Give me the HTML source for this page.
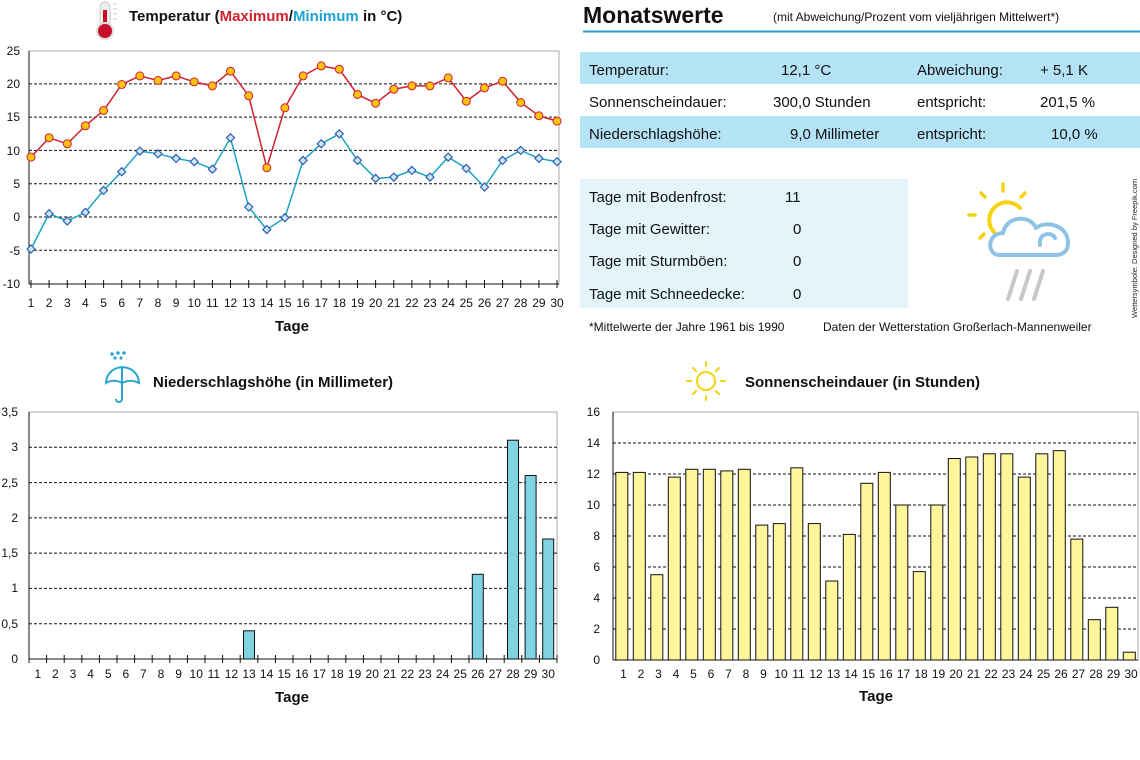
<!DOCTYPE html>
<html><head><meta charset="utf-8"><style>
html,body{margin:0;padding:0;background:#fff;width:1140px;height:760px;overflow:hidden}
svg{display:block;font-family:"Liberation Sans",sans-serif}
.t{font-size:12px;fill:#111}
.g{stroke:#111;stroke-width:1;stroke-dasharray:3,2}
</style></head><body>
<svg width="1140" height="760" viewBox="0 0 1140 760" xmlns="http://www.w3.org/2000/svg">
<!-- ===== Temperature ===== -->
<g>
<rect x="100" y="2" width="10" height="26" rx="5" fill="#eee" stroke="#ccc"/>
<rect x="103" y="10" width="4" height="22" fill="#c8102e"/>
<circle cx="105" cy="31" r="8" fill="#c8102e" stroke="#ddd" stroke-width="2"/>
<line x1="113" y1="4" x2="117" y2="4" stroke="#ccc"/><line x1="113" y1="9" x2="117" y2="9" stroke="#ccc"/><line x1="113" y1="14" x2="117" y2="14" stroke="#ccc"/><line x1="113" y1="19" x2="117" y2="19" stroke="#ccc"/>
<text x="129" y="21" font-size="15" font-weight="bold" fill="#111">Temperatur (<tspan fill="#d0202e">Maximum</tspan>/<tspan fill="#1aa3d4">Minimum</tspan> in °C)</text>
</g>
<rect x="29" y="51" width="530" height="233" fill="none" stroke="#aaa"/>
<line x1="29" y1="83.9" x2="559" y2="83.9" class="g"/>
<line x1="29" y1="117.1" x2="559" y2="117.1" class="g"/>
<line x1="29" y1="150.4" x2="559" y2="150.4" class="g"/>
<line x1="29" y1="183.7" x2="559" y2="183.7" class="g" stroke="#666"/>
<line x1="29" y1="217" x2="559" y2="217" class="g"/>
<line x1="29" y1="250.3" x2="559" y2="250.3" class="g"/>
<line x1="29" y1="51" x2="29" y2="284" stroke="#111"/>
<line x1="29" y1="284" x2="559" y2="284" stroke="#111"/>
<g class="t" text-anchor="end">
<text x="20" y="55">25</text><text x="20" y="88">20</text><text x="20" y="121">15</text><text x="20" y="155">10</text><text x="20" y="188">5</text><text x="20" y="221">0</text><text x="20" y="255">-5</text><text x="20" y="288">-10</text>
</g>
<g stroke="#111">
<path d="M31 280v8M49.1 280v8M67.3 280v8M85.4 280v8M103.6 280v8M121.7 280v8M139.8 280v8M158 280v8M176.1 280v8M194.2 280v8M212.4 280v8M230.5 280v8M248.7 280v8M266.8 280v8M284.9 280v8M303.1 280v8M321.2 280v8M339.3 280v8M357.5 280v8M375.6 280v8M393.8 280v8M411.9 280v8M430 280v8M448.2 280v8M466.3 280v8M484.5 280v8M502.6 280v8M520.7 280v8M538.9 280v8M557 280v8"/>
</g>
<g class="t" text-anchor="middle">
<text x="31" y="307">1</text><text x="49.1" y="307">2</text><text x="67.3" y="307">3</text><text x="85.4" y="307">4</text><text x="103.6" y="307">5</text><text x="121.7" y="307">6</text><text x="139.8" y="307">7</text><text x="158" y="307">8</text><text x="176.1" y="307">9</text><text x="194.2" y="307">10</text><text x="212.4" y="307">11</text><text x="230.5" y="307">12</text><text x="248.7" y="307">13</text><text x="266.8" y="307">14</text><text x="284.9" y="307">15</text><text x="303.1" y="307">16</text><text x="321.2" y="307">17</text><text x="339.3" y="307">18</text><text x="357.5" y="307">19</text><text x="375.6" y="307">20</text><text x="393.8" y="307">21</text><text x="411.9" y="307">22</text><text x="430" y="307">23</text><text x="448.2" y="307">24</text><text x="466.3" y="307">25</text><text x="484.5" y="307">26</text><text x="502.6" y="307">27</text><text x="520.7" y="307">28</text><text x="538.9" y="307">29</text><text x="557" y="307">30</text>
</g>
<text x="292" y="331" font-size="15" font-weight="bold" text-anchor="middle" fill="#111">Tage</text>
<polyline fill="none" stroke="#d0202e" stroke-width="1.5" points="31,157.1 49.1,137.8 67.3,143.8 85.4,125.8 103.6,110.5 121.7,84.5 139.8,75.9 158,80.5 176.1,75.9 194.2,81.9 212.4,85.9 230.5,71.2 248.7,95.8 266.8,167.7 284.9,107.8 303.1,75.9 321.2,65.9 339.3,69.2 357.5,94.5 375.6,103.2 393.8,89.2 411.9,85.9 430,85.9 448.2,77.9 466.3,101.2 484.5,87.9 502.6,81.2 520.7,102.5 538.9,115.8 557,121.1"/>
<g fill="#ffc20e" stroke="#d0202e" stroke-width="1">
<circle cx="31" cy="157.1" r="4"/><circle cx="49.1" cy="137.8" r="4"/><circle cx="67.3" cy="143.8" r="4"/><circle cx="85.4" cy="125.8" r="4"/><circle cx="103.6" cy="110.5" r="4"/><circle cx="121.7" cy="84.5" r="4"/><circle cx="139.8" cy="75.9" r="4"/><circle cx="158" cy="80.5" r="4"/><circle cx="176.1" cy="75.9" r="4"/><circle cx="194.2" cy="81.9" r="4"/><circle cx="212.4" cy="85.9" r="4"/><circle cx="230.5" cy="71.2" r="4"/><circle cx="248.7" cy="95.8" r="4"/><circle cx="266.8" cy="167.7" r="4"/><circle cx="284.9" cy="107.8" r="4"/><circle cx="303.1" cy="75.9" r="4"/><circle cx="321.2" cy="65.9" r="4"/><circle cx="339.3" cy="69.2" r="4"/><circle cx="357.5" cy="94.5" r="4"/><circle cx="375.6" cy="103.2" r="4"/><circle cx="393.8" cy="89.2" r="4"/><circle cx="411.9" cy="85.9" r="4"/><circle cx="430" cy="85.9" r="4"/><circle cx="448.2" cy="77.9" r="4"/><circle cx="466.3" cy="101.2" r="4"/><circle cx="484.5" cy="87.9" r="4"/><circle cx="502.6" cy="81.2" r="4"/><circle cx="520.7" cy="102.5" r="4"/><circle cx="538.9" cy="115.8" r="4"/><circle cx="557" cy="121.1" r="4"/>
</g>
<polyline fill="none" stroke="#1aa3c4" stroke-width="1.5" points="31,249 49.1,213.7 67.3,221 85.4,212.3 103.6,190.4 121.7,171.7 139.8,151.1 158,153.8 176.1,158.4 194.2,161.7 212.4,169.1 230.5,137.8 248.7,207 266.8,229.6 284.9,217.7 303.1,160.4 321.2,143.8 339.3,133.8 357.5,160.4 375.6,178.4 393.8,177.1 411.9,170.4 430,177.1 448.2,157.1 466.3,168.4 484.5,187 502.6,160.4 520.7,150.4 538.9,158.4 557,161.7"/>
<g fill="#cfe6f7" stroke="#2e5fb0" stroke-width="1.2">
<path d="M31 245l4 4-4 4-4-4zM49.1 209.7l4 4-4 4-4-4zM67.3 217l4 4-4 4-4-4zM85.4 208.3l4 4-4 4-4-4zM103.6 186.4l4 4-4 4-4-4zM121.7 167.7l4 4-4 4-4-4zM139.8 147.1l4 4-4 4-4-4zM158 149.8l4 4-4 4-4-4zM176.1 154.4l4 4-4 4-4-4zM194.2 157.7l4 4-4 4-4-4zM212.4 165.1l4 4-4 4-4-4zM230.5 133.8l4 4-4 4-4-4zM248.7 203l4 4-4 4-4-4zM266.8 225.6l4 4-4 4-4-4zM284.9 213.7l4 4-4 4-4-4zM303.1 156.4l4 4-4 4-4-4zM321.2 139.8l4 4-4 4-4-4zM339.3 129.8l4 4-4 4-4-4zM357.5 156.4l4 4-4 4-4-4zM375.6 174.4l4 4-4 4-4-4zM393.8 173.1l4 4-4 4-4-4zM411.9 166.4l4 4-4 4-4-4zM430 173.1l4 4-4 4-4-4zM448.2 153.1l4 4-4 4-4-4zM466.3 164.4l4 4-4 4-4-4zM484.5 183l4 4-4 4-4-4zM502.6 156.4l4 4-4 4-4-4zM520.7 146.4l4 4-4 4-4-4zM538.9 154.4l4 4-4 4-4-4zM557 157.7l4 4-4 4-4-4z"/>
</g>

<!-- ===== Monatswerte ===== -->
<text x="583" y="23" font-size="23" font-weight="bold" fill="#111">Monatswerte</text>
<text x="773" y="21" font-size="12" fill="#111">(mit Abweichung/Prozent vom vieljährigen Mittelwert*)</text>
<line x1="583" y1="31.5" x2="1140" y2="31.5" stroke="#2a9fd6" stroke-width="2"/>
<rect x="580" y="52" width="560" height="32" fill="#b4e3f6"/>
<rect x="580" y="116" width="560" height="32" fill="#b4e3f6"/>
<g font-size="15" fill="#111">
<text x="589" y="75">Temperatur:</text><text x="781" y="75">12,1 °C</text><text x="917" y="75">Abweichung:</text><text x="1040" y="75">+ 5,1 K</text>
<text x="589" y="107">Sonnenscheindauer:</text><text x="773" y="107">300,0 Stunden</text><text x="917" y="107">entspricht:</text><text x="1040" y="107">201,5 %</text>
<text x="589" y="139">Niederschlagshöhe:</text><text x="790" y="139">9,0 Millimeter</text><text x="917" y="139">entspricht:</text><text x="1051" y="139">10,0 %</text>
</g>
<rect x="580" y="179" width="328" height="129" fill="#e3f4fb"/>
<g font-size="15" fill="#111">
<text x="589" y="202">Tage mit Bodenfrost:</text><text x="785" y="202">11</text>
<text x="589" y="234">Tage mit Gewitter:</text><text x="793" y="234">0</text>
<text x="589" y="266">Tage mit Sturmböen:</text><text x="793" y="266">0</text>
<text x="589" y="299">Tage mit Schneedecke:</text><text x="793" y="299">0</text>
</g>
<text x="589" y="331" font-size="12" fill="#111">*Mittelwerte der Jahre 1961 bis 1990</text>
<text x="823" y="331" font-size="12" fill="#111">Daten der Wetterstation Großerlach-Mannenweiler</text>
<text transform="translate(1137,318) rotate(-90)" font-size="7.5" fill="#222">Wettersymbole: Designed by Freepik.com</text>
<!-- weather icon -->
<g fill="none" stroke-linecap="round">
<path d="M994 232 A15 15 0 1 1 1020 208" stroke="#f5d312" stroke-width="4"/>
<g stroke="#f5d312" stroke-width="3.5"><path d="M1003 184v7M981 193l4 4M1025 193l-4 4M969 215h6M980 238l4-4"/></g>
<path d="M1000 255 C986 255 987 233 1003 233 C1006 216 1030 214 1036 228 C1046 220 1068 225 1068 243 C1068 252 1062 255 1055 255 Z" stroke="#8ec3e6" stroke-width="4" stroke-linejoin="round"/>
<path d="M1040 245 C1038 233 1052 231 1055 238" stroke="#8ec3e6" stroke-width="4"/>
<g stroke="#c8c8c8" stroke-width="4"><path d="M1017 271l-9 28M1030 271l-9 28M1043 271l-9 28"/></g>
</g>

<!-- ===== Niederschlag ===== -->
<g>
<g fill="#2aa6cf"><circle cx="112" cy="354" r="1.8"/><circle cx="118" cy="353" r="1.8"/><circle cx="124" cy="353" r="1.8"/><circle cx="115" cy="358" r="1.6"/><circle cx="121" cy="358" r="1.6"/></g>
<path d="M106 383 C107 362 138 362 139 383 C133 380 128 380 122 383 C117 380 111 380 106 383 Z" fill="none" stroke="#2aa6cf" stroke-width="2"/>
<path d="M122 366v33c0 4-6 4-6 0" fill="none" stroke="#2aa6cf" stroke-width="2"/>
<text x="153" y="387" font-size="15" font-weight="bold" fill="#111">Niederschlagshöhe (in Millimeter)</text>
</g>
<rect x="29" y="412" width="528" height="247" fill="none" stroke="#aaa"/>
<line x1="29" y1="447.3" x2="557" y2="447.3" class="g"/>
<line x1="29" y1="482.6" x2="557" y2="482.6" class="g"/>
<line x1="29" y1="517.9" x2="557" y2="517.9" class="g"/>
<line x1="29" y1="553.1" x2="557" y2="553.1" class="g"/>
<line x1="29" y1="588.4" x2="557" y2="588.4" class="g"/>
<line x1="29" y1="623.7" x2="557" y2="623.7" class="g"/>
<g fill="#7fd3e3" stroke="#111" stroke-width="1">
<rect x="243.5" y="630.8" width="11" height="28.2"/>
<rect x="472.3" y="574.3" width="11" height="84.7"/>
<rect x="507.5" y="440.2" width="11" height="218.8"/>
<rect x="525.1" y="475.5" width="11" height="183.5"/>
<rect x="542.7" y="539" width="11" height="120"/>
</g>
<line x1="29" y1="412" x2="29" y2="659" stroke="#111"/>
<line x1="29" y1="659" x2="557" y2="659" stroke="#111"/>
<g stroke="#111"><path d="M29 655v8M46.6 655v8M64.2 655v8M81.8 655v8M99.4 655v8M117 655v8M134.6 655v8M152.2 655v8M169.8 655v8M187.4 655v8M205 655v8M222.6 655v8M240.2 655v8M257.8 655v8M275.4 655v8M293 655v8M310.6 655v8M328.2 655v8M345.8 655v8M363.4 655v8M381 655v8M398.6 655v8M416.2 655v8M433.8 655v8M451.4 655v8M469 655v8M486.6 655v8M504.2 655v8M521.8 655v8M539.4 655v8M557 655v8"/></g>
<g class="t" text-anchor="end">
<text x="18" y="416">3,5</text><text x="18" y="451">3</text><text x="18" y="487">2,5</text><text x="18" y="522">2</text><text x="18" y="557">1,5</text><text x="18" y="592">1</text><text x="18" y="628">0,5</text><text x="18" y="663">0</text>
</g>
<g class="t" text-anchor="middle">
<text x="37.8" y="678">1</text><text x="55.4" y="678">2</text><text x="73" y="678">3</text><text x="90.6" y="678">4</text><text x="108.2" y="678">5</text><text x="125.8" y="678">6</text><text x="143.4" y="678">7</text><text x="161" y="678">8</text><text x="178.6" y="678">9</text><text x="196.2" y="678">10</text><text x="213.8" y="678">11</text><text x="231.4" y="678">12</text><text x="249" y="678">13</text><text x="266.6" y="678">14</text><text x="284.2" y="678">15</text><text x="301.8" y="678">16</text><text x="319.4" y="678">17</text><text x="337" y="678">18</text><text x="354.6" y="678">19</text><text x="372.2" y="678">20</text><text x="389.8" y="678">21</text><text x="407.4" y="678">22</text><text x="425" y="678">23</text><text x="442.6" y="678">24</text><text x="460.2" y="678">25</text><text x="477.8" y="678">26</text><text x="495.4" y="678">27</text><text x="513" y="678">28</text><text x="530.6" y="678">29</text><text x="548.2" y="678">30</text>
</g>
<text x="292" y="702" font-size="15" font-weight="bold" text-anchor="middle" fill="#111">Tage</text>

<!-- ===== Sonnenschein ===== -->
<g>
<circle cx="706" cy="381" r="9" fill="none" stroke="#f5d312" stroke-width="2"/>
<g stroke="#f5d312" stroke-width="2" stroke-linecap="round"><path d="M706 362v4M706 396v4M687 381h4M721 381h4M693 368l3 3M716 391l3 3M719 368l-3 3M696 391l-3 3"/></g>
<text x="745" y="387" font-size="15" font-weight="bold" fill="#111">Sonnenscheindauer (in Stunden)</text>
</g>
<rect x="613" y="412" width="525" height="248" fill="none" stroke="#aaa"/>
<line x1="613" y1="443" x2="1138" y2="443" class="g"/>
<line x1="613" y1="474" x2="1138" y2="474" class="g"/>
<line x1="613" y1="505" x2="1138" y2="505" class="g"/>
<line x1="613" y1="536" x2="1138" y2="536" class="g"/>
<line x1="613" y1="567" x2="1138" y2="567" class="g"/>
<line x1="613" y1="598" x2="1138" y2="598" class="g"/>
<line x1="613" y1="629" x2="1138" y2="629" class="g"/>
<g fill="#fff59a" stroke="#111" stroke-width="1">
<rect x="615.8" y="472.4" width="12" height="187.6"/><rect x="633.3" y="472.4" width="12" height="187.6"/><rect x="650.8" y="574.7" width="12" height="85.3"/><rect x="668.3" y="477.1" width="12" height="182.9"/><rect x="685.8" y="469.3" width="12" height="190.7"/><rect x="703.3" y="469.3" width="12" height="190.7"/><rect x="720.8" y="470.9" width="12" height="189.1"/><rect x="738.3" y="469.3" width="12" height="190.7"/><rect x="755.8" y="525.1" width="12" height="134.9"/><rect x="773.3" y="523.6" width="12" height="136.4"/><rect x="790.8" y="467.8" width="12" height="192.2"/><rect x="808.3" y="523.6" width="12" height="136.4"/><rect x="825.8" y="581" width="12" height="79"/><rect x="843.3" y="534.4" width="12" height="125.6"/><rect x="860.8" y="483.3" width="12" height="176.7"/><rect x="878.3" y="472.4" width="12" height="187.6"/><rect x="895.8" y="505" width="12" height="155"/><rect x="913.3" y="571.6" width="12" height="88.4"/><rect x="930.8" y="505" width="12" height="155"/><rect x="948.3" y="458.5" width="12" height="201.5"/><rect x="965.8" y="457" width="12" height="203"/><rect x="983.3" y="453.8" width="12" height="206.2"/><rect x="1000.8" y="453.8" width="12" height="206.2"/><rect x="1018.3" y="477.1" width="12" height="182.9"/><rect x="1035.8" y="453.8" width="12" height="206.2"/><rect x="1053.3" y="450.7" width="12" height="209.3"/><rect x="1070.8" y="539.1" width="12" height="120.9"/><rect x="1088.3" y="619.7" width="12" height="40.3"/><rect x="1105.8" y="607.3" width="12" height="52.7"/><rect x="1123.3" y="652.2" width="12" height="7.8"/>
</g>
<line x1="613" y1="412" x2="613" y2="660" stroke="#111"/>
<line x1="613" y1="660" x2="1138" y2="660" stroke="#111"/>
<g class="t" text-anchor="end">
<text x="600" y="416">16</text><text x="600" y="447">14</text><text x="600" y="478">12</text><text x="600" y="509">10</text><text x="600" y="540">8</text><text x="600" y="571">6</text><text x="600" y="602">4</text><text x="600" y="633">2</text><text x="600" y="664">0</text>
</g>
<g class="t" text-anchor="middle">
<text x="623.5" y="678">1</text><text x="641" y="678">2</text><text x="658.5" y="678">3</text><text x="676" y="678">4</text><text x="693.5" y="678">5</text><text x="711" y="678">6</text><text x="728.5" y="678">7</text><text x="746" y="678">8</text><text x="763.5" y="678">9</text><text x="781" y="678">10</text><text x="798.5" y="678">11</text><text x="816" y="678">12</text><text x="833.5" y="678">13</text><text x="851" y="678">14</text><text x="868.5" y="678">15</text><text x="886" y="678">16</text><text x="903.5" y="678">17</text><text x="921" y="678">18</text><text x="938.5" y="678">19</text><text x="956" y="678">20</text><text x="973.5" y="678">21</text><text x="991" y="678">22</text><text x="1008.5" y="678">23</text><text x="1026" y="678">24</text><text x="1043.5" y="678">25</text><text x="1061" y="678">26</text><text x="1078.5" y="678">27</text><text x="1096" y="678">28</text><text x="1113.5" y="678">29</text><text x="1131" y="678">30</text>
</g>
<text x="876" y="701" font-size="15" font-weight="bold" text-anchor="middle" fill="#111">Tage</text>
</svg>
</body></html>
